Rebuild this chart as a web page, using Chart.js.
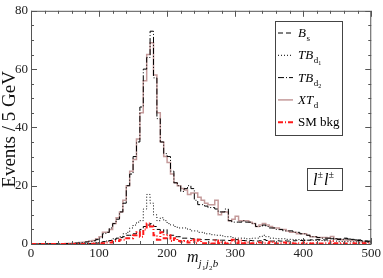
<!DOCTYPE html>
<html>
<head>
<meta charset="utf-8">
<script src="https://cdn.jsdelivr.net/npm/chart.js@4.4.1/dist/chart.umd.min.js"></script>
<style>
  html, body { margin: 0; padding: 0; background: #fff; }
  #wrap { width: 383px; height: 278px; }
</style>
</head>
<body>
<div id="wrap"><canvas id="histo" width="383" height="278"></canvas></div>
<script>
// bins of 5 GeV from 0 to 500, values are events per bin
const binWidth = 5;
const xTicks = [0, 100, 200, 300, 400, 500];
const yTicks = [0, 20, 40, 60, 80];

const bsVals = [
    0, 0, 0, 0, 0, 0, 0, 0, 0, 0,
    0, 0, 0, 0, 0, 0, 0.1, 0.1, 0.2, 0.3,
    0.5, 0.8, 1, 1.2, 1.5, 2, 2.2, 2.5, 3, 3,
    3.5, 4, 5, 6, 6.5, 7, 6, 5, 4, 5,
    3, 3, 2.5, 2.5, 2, 2, 2, 1.8, 1.8, 1.6,
    1.5, 1.5, 1.5, 1.4, 1.4, 1.3, 1.3, 1.3, 1.2, 1.2,
    1.5, 1.2, 1.2, 1.1, 1.2, 1.1, 1, 1.1, 1.5, 1.2,
    1, 1, 1.1, 1, 1.1, 1, 1, 1.1, 1.2, 1.2,
    1.2, 1.3, 1.4, 1.5, 1.5, 1.5, 1.4, 1.6, 1.8, 1.5,
    1.5, 1.8, 2, 1.8, 1.6, 1.5, 1.4, 1.2, 1.0, 0.8
];
const tbd1Vals = [
    0, 0, 0, 0, 0, 0, 0, 0, 0, 0,
    0, 0, 0, 0, 0, 0, 0.1, 0.2, 0.3, 0.5,
    0.6, 0.8, 1, 1.3, 1.8, 2, 2.5, 3.5, 4, 5.5,
    6.5, 7.5, 8, 12, 17, 14, 10, 8, 9, 8,
    7, 6.5, 6, 5.5, 5.5, 5.5, 5, 4.5, 4.5, 4,
    4, 3.5, 3.5, 3.2, 3, 3, 2.8, 2.5, 2.5, 2.2,
    2, 2, 2, 1.8, 1.8, 2, 2, 2.5, 3, 2.5,
    2, 2, 1.8, 1.8, 1.8, 1.6, 1.6, 1.5, 1.5, 1.4,
    1.4, 1.3, 1.3, 1.2, 1.2, 1.2, 1.1, 1.1, 1.0, 1.0,
    0.9, 0.9, 0.8, 0.8, 0.7, 0.7, 0.6, 0.6, 0.5, 0.5
];
const tbd2Vals = [
    0, 0, 0, 0, 0, 0, 0, 0, 0, 0.1,
    0.1, 0.2, 0.2, 0.3, 0.4, 0.5, 0.7, 0.9, 1.1, 1.5,
    2, 3.5, 4, 5.5, 7, 8.5, 11, 14, 20, 24,
    30, 35, 47, 60, 64, 73, 57, 43, 35, 31,
    30, 25, 21, 20, 18, 19, 20, 19, 15, 13.5,
    13.5, 13, 12.5, 12.5, 12, 11, 11, 12, 8, 7.5,
    7.5, 7.5, 8, 7.5, 7.5, 7, 6, 6, 6.5, 6,
    5.5, 5.5, 5, 5, 4.5, 4.5, 4.5, 4, 4, 3.5,
    3.5, 3, 2.5, 2.5, 2.2, 2, 2, 2, 2, 1.8,
    1.7, 1.6, 1.8, 1.7, 1.5, 1.4, 1.2, 1.0, 1.0, 1.0
];
const xtdVals = [
    0, 0, 0, 0, 0, 0, 0, 0, 0.1, 0.1,
    0.2, 0.2, 0.3, 0.4, 0.5, 0.6, 0.8, 1.0, 1.2, 1.8,
    2.5, 4, 4, 5, 7, 9, 11, 15, 20, 25,
    29, 36, 45, 56, 65, 69, 58, 45, 35, 30,
    28, 24, 21, 20, 19, 18.5, 17, 17.5, 17.5, 16,
    15, 14, 13.5, 13.5, 15, 10, 11, 11, 8, 8.5,
    9.5, 8, 8, 8, 7.5, 7, 6, 6.5, 7, 6.5,
    6, 5.5, 5.5, 5, 5, 4.5, 4, 4, 3.5, 3.5,
    3.5, 3, 2.5, 2.5, 2.2, 2.2, 2.2, 2, 2.6, 1.8,
    1.6, 1.5, 1.4, 1.3, 1.2, 1.1, 1.0, 0.9, 0.8, 0.8
];
const smVals = [
    0, 0, 0, 0, 0, 0, 0, 0, 0, 0,
    0, 0, 0, 0, 0, 0, 0, 0, 0.1, 0.1,
    0.2, 0.3, 0.5, 0.5, 1, 1, 1.5, 1.5, 2, 2,
    3, 4, 2.5, 5, 7, 6, 3, 1.5, 4, 2,
    3, 1, 2, 1, 0.8, 1, 0.5, 1.5, 0.3, 1.5,
    0.3, 0.3, 0.5, 0.2, 1.2, 0.3, 0.5, 0.2, 0.3, 1.5,
    0.3, 1.2, 0.3, 0.5, 0.2, 0.3, 0.2, 0.5, 0.3, 0.2,
    0.8, 0.3, 0.2, 0.3, 0.5, 0.2, 0.3, 0.2, 0.3, 0.2,
    0.5, 0.3, 0.2, 0.3, 0.2, 0.2, 0.3, 0.2, 1.0, 0.3,
    0.2, 0.3, 0.2, 0.2, 0.3, 0.2, 0.2, 0.3, 0.2, 0.2
];

// legend labels: [main, subscript, sub-subscript]
const legendLabels = [
    ['B', 's', ''],
    ['TB', 'd', '1'],
    ['TB', 'd', '2'],
    ['XT', 'd', ''],
    ['SM bkg', '', '']
];

const serif = '"Liberation Serif", "Times New Roman", serif';

function stepPoints(vals) {
    const pts = vals.map((v, i) => ({ x: i * binWidth, y: v }));
    pts.push({ x: vals.length * binWidth, y: vals[vals.length - 1] });
    return pts;
}

function histSet(vals, color, dash, width) {
    return {
        data: stepPoints(vals),
        borderColor: color,
        borderDash: dash,
        borderWidth: width,
        stepped: 'before',
        pointRadius: 0,
        fill: false
    };
}

const sets = [
    histSet(smVals, '#ff1a1a', [5, 2, 1, 2], 2),
    histSet(bsVals, '#000', [5, 3], 1),
    histSet(tbd1Vals, '#000', [1, 2], 1),
    histSet(tbd2Vals, '#000', [6, 2, 1, 2], 1),
    histSet(xtdVals, '#c49a9a', [], 1.5)
];
// legend order
const legendSets = [sets[1], sets[2], sets[3], sets[4], sets[0]];

// inward ticks, frame, legend and axis titles
const decor = {
    id: 'decor',
    afterDraw(chart) {
        const ctx = chart.ctx;
        const a = chart.chartArea;
        const xs = chart.scales.x, ys = chart.scales.y;
        ctx.save();
        ctx.strokeStyle = '#555';
        ctx.lineWidth = 1;
        ctx.strokeRect(a.left + 0.5, a.top + 0.5, a.right - a.left - 1, a.bottom - a.top);

        ctx.beginPath();
        for (let v = 0; v <= 500; v += 20) {
            const px = Math.round(xs.getPixelForValue(v)) + 0.5;
            const len = v % 100 === 0 ? 6 : 3;
            ctx.moveTo(px, a.bottom); ctx.lineTo(px, a.bottom - len);
            ctx.moveTo(px, a.top); ctx.lineTo(px, a.top + len);
        }
        for (let v = 0; v <= 80; v += 5) {
            const py = Math.round(ys.getPixelForValue(v)) + 0.5;
            const len = v % 20 === 0 ? 6 : 3;
            ctx.moveTo(a.left, py); ctx.lineTo(a.left + len, py);
            ctx.moveTo(a.right, py); ctx.lineTo(a.right - len, py);
        }
        ctx.stroke();

        // legend box
        ctx.fillStyle = '#fff';
        ctx.fillRect(275, 21, 67, 114);
        ctx.strokeStyle = '#444';
        ctx.strokeRect(275.5, 21.5, 67, 114);
        ctx.textBaseline = 'alphabetic';
        legendSets.forEach((ds, i) => {
            const y = 33 + i * 22.3;
            ctx.beginPath();
            ctx.setLineDash(ds.borderDash);
            ctx.strokeStyle = ds.borderColor;
            ctx.lineWidth = ds.borderWidth;
            ctx.moveTo(278, y); ctx.lineTo(293, y);
            ctx.stroke();
            ctx.setLineDash([]);
            const [main, sub, sub2] = legendLabels[i];
            ctx.fillStyle = '#000';
            let x = 298;
            const isItalic = sub !== '';
            ctx.font = (isItalic ? 'italic ' : '') + '13px ' + serif;
            ctx.fillText(main, x, y + 4);
            x += ctx.measureText(main).width;
            if (sub) {
                ctx.font = '9px ' + serif;
                ctx.fillText(sub, x + 0.5, y + 8);
                x += ctx.measureText(sub).width + 0.5;
            }
            if (sub2) {
                ctx.font = '6px ' + serif;
                ctx.fillText(sub2, x, y + 10);
            }
        });

        // channel label
        ctx.fillStyle = '#fff';
        ctx.fillRect(307, 168, 35, 22);
        ctx.strokeStyle = '#444';
        ctx.lineWidth = 1;
        ctx.strokeRect(307.5, 168.5, 35, 22);
        ctx.fillStyle = '#000';
        let cx = 313;
        for (let k = 0; k < 2; k++) {
            ctx.font = 'italic 16px ' + serif;
            ctx.fillText('l', cx, 185);
            cx += ctx.measureText('l').width;
            ctx.font = '10px ' + serif;
            ctx.fillText('\u00b1', cx, 178);
            cx += ctx.measureText('\u00b1').width + 1;
        }

        // axis titles
        ctx.fillStyle = '#111';
        ctx.font = 'italic 16px ' + serif;
        let tx = 187;
        ctx.fillText('m', tx, 262);
        tx += ctx.measureText('m').width;
        const parts = [['j', 'italic 11px', 267], ['1', '7px', 270], ['j', 'italic 11px', 267], ['2', '7px', 270], ['b', 'italic 11px', 267]];
        parts.forEach(([t, f, yy]) => {
            ctx.font = f + ' ' + serif;
            ctx.fillText(t, tx, yy);
            tx += ctx.measureText(t).width + 0.3;
        });

        ctx.translate(15, (a.top + a.bottom) / 2 + 2);
        ctx.rotate(-Math.PI / 2);
        ctx.textAlign = 'center';
        ctx.font = '19px ' + serif;
        ctx.fillText('Events / 5 GeV', 0, 0);
        ctx.restore();
    }
};

new Chart(document.getElementById('histo'), {
    type: 'line',
    data: { datasets: sets },
    options: {
        responsive: false,
        animation: false,
        events: [],
        layout: { padding: { top: 4, right: 10, left: 0, bottom: 0 } },
        plugins: { legend: { display: false }, tooltip: { enabled: false } },
        scales: {
            x: {
                type: 'linear',
                min: 0,
                max: 500,
                afterFit(s) { s.height = 34; },
                afterBuildTicks(s) { s.ticks = xTicks.map(v => ({ value: v })); },
                grid: { display: false, drawTicks: false },
                border: { display: false },
                ticks: { padding: 2, color: '#222', font: { family: serif, size: 13 }, maxRotation: 0 }
            },
            y: {
                min: 0,
                max: 80,
                afterFit(s) { s.width = 31; },
                afterBuildTicks(s) { s.ticks = yTicks.map(v => ({ value: v })); },
                grid: { display: false, drawTicks: false },
                border: { display: false },
                ticks: { padding: 3, color: '#222', font: { family: serif, size: 13 } }
            }
        }
    },
    plugins: [decor]
});
</script>
</body>
</html>
